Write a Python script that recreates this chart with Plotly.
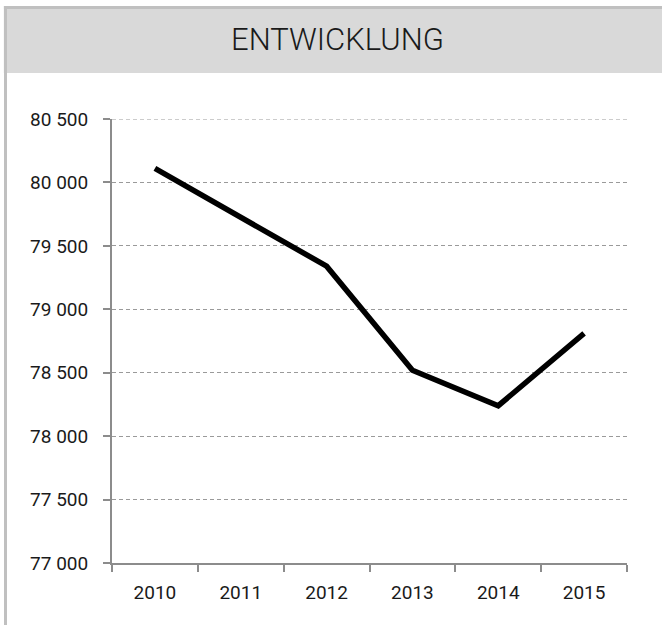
import plotly.graph_objects as go

years = ["2010", "2011", "2012", "2013", "2014", "2015"]
population = [80110, 79720, 79340, 78520, 78240, 78810]
y_ticks = [77000, 77500, 78000, 78500, 79000, 79500, 80000, 80500]
title = "ENTWICKLUNG"

fig = go.Figure()
fig.add_trace(
    go.Scatter(
        x=years,
        y=population,
        mode="lines",
        line=dict(color="black", width=5.5),
        showlegend=False,
        hoverinfo="skip",
    )
)

# header band and the frame lines on top / left
fig.add_shape(
    type="rect", xref="paper", yref="paper",
    x0=-0.21, x1=1.1, y0=1.1036, y1=1.2477,
    fillcolor="#d9d9d9", line_width=0, layer="below",
)
fig.add_shape(
    type="line", xref="paper", yref="paper",
    x0=-0.21, x1=1.1, y0=1.251, y1=1.251,
    line=dict(color="#c0c0c0", width=3), layer="below",
)
fig.add_shape(
    type="line", xref="paper", yref="paper",
    x0=-0.2068, x1=-0.2068, y0=-0.2, y1=1.254,
    line=dict(color="#c0c0c0", width=3), layer="below",
)
# top gridline sits on the plot edge, plotly drops it, so draw it here
fig.add_shape(
    type="line", xref="paper", yref="y",
    x0=0, x1=1, y0=y_ticks[-1], y1=y_ticks[-1],
    line=dict(color="#9a9a9a", width=1, dash="4px,3px"), layer="below",
)
fig.add_annotation(
    text=title, xref="paper", yref="paper",
    x=0.437, y=1.179, xanchor="center", yanchor="middle",
    showarrow=False,
    font=dict(family="Roboto", size=31, color="#1a1a1a", weight=300),
)

fig.update_layout(
    width=662,
    height=625,
    margin=dict(l=112, r=35, t=119, b=62),
    paper_bgcolor="white",
    plot_bgcolor="white",
    separators=", ",
    font=dict(family="Roboto", size=19, color="#1a1a1a"),
)
fig.update_xaxes(
    type="category",
    range=[-0.5, 5.5],
    showline=True, linecolor="#8c8c8c", linewidth=2,
    ticks="outside", tickson="boundaries", ticklen=7,
    tickcolor="#8c8c8c", tickwidth=2,
    ticklabelstandoff=11,
    showgrid=False,
)
fig.update_yaxes(
    range=[77000, 80500],
    tickvals=y_ticks,
    tickformat=",d",
    showline=True, linecolor="#8c8c8c", linewidth=2,
    ticks="outside", ticklen=7, tickcolor="#8c8c8c", tickwidth=2,
    ticklabelstandoff=11,
    showgrid=True, gridcolor="#9a9a9a", gridwidth=1, griddash="4px,3px",
    zeroline=False,
)

fig.write_html(
    "out.html",
    config={"displayModeBar": False},
    post_script="document.body.style.margin = '0';",
)
